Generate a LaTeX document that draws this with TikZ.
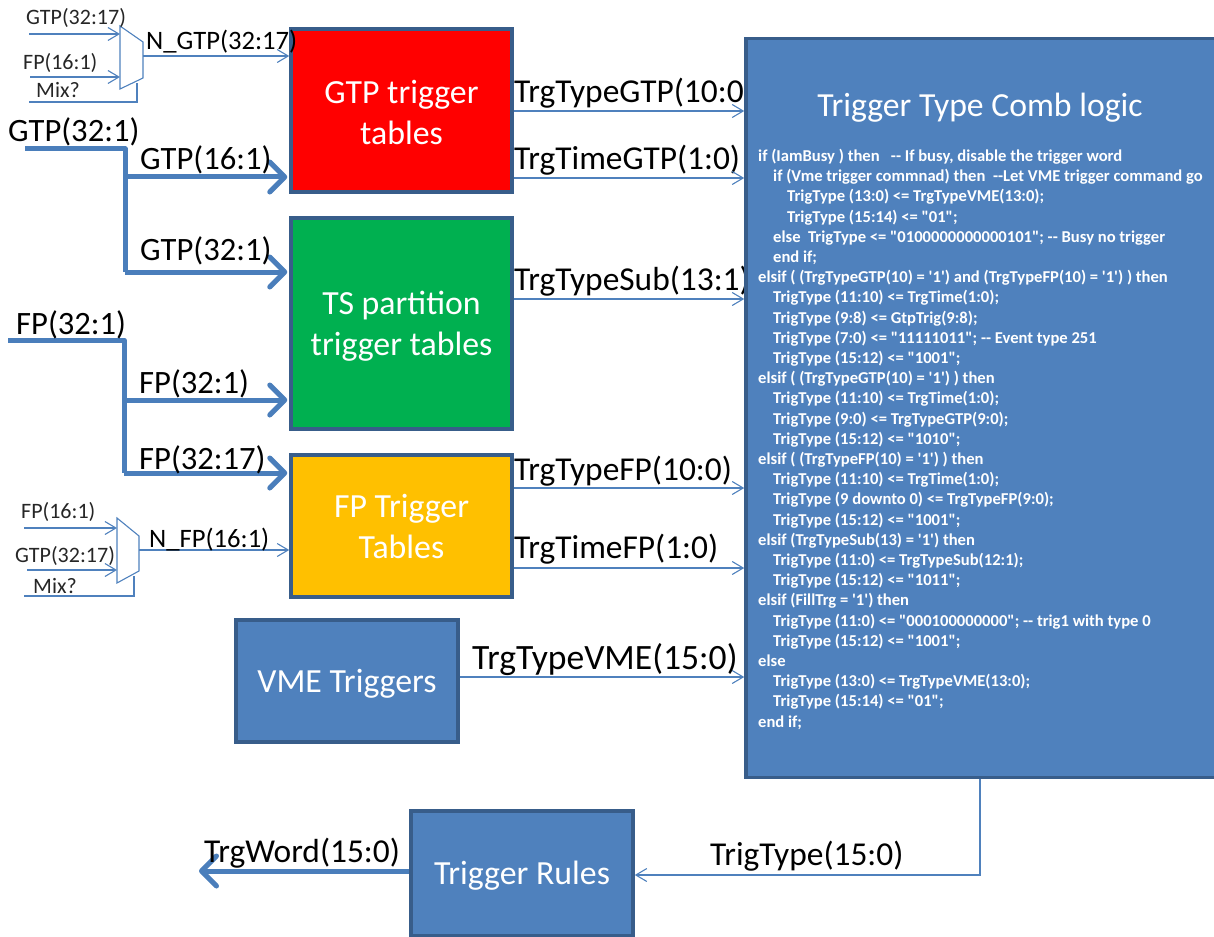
\documentclass[tikz,border=0pt]{standalone}
\usepackage{xcolor}
\usepackage{fontspec}
\setmainfont{Carlito}
\newfontfamily\codefont{Carlito}
\usetikzlibrary{arrows.meta}

\definecolor{wireblue}{RGB}{79,129,189}
\definecolor{busblue}{RGB}{74,126,187}
\definecolor{edgeblue}{RGB}{56,93,138}

\tikzset{
  wire/.style={color=wireblue,line width=1.1pt},
  bus/.style={color=busblue,line width=5pt},
  tablebox/.style={draw=edgeblue,line width=3.5pt,inner sep=0pt},
  boxtxt/.style={text=white,align=center,inner sep=0pt,font=\fontsize{33.8}{41}\selectfont},
  smalltxt/.style={anchor=base west,inner sep=0pt,text=black!85,font=\fontsize{22}{22}\selectfont},
  midtxt/.style={anchor=base west,inner sep=0pt,text=black,font=\fontsize{26.6}{26.6}\selectfont},
  bigtxt/.style={anchor=base west,inner sep=0pt,text=black,font=\fontsize{33.4}{33.4}\selectfont},
  lefttxt/.style={bigtxt,font=\fontsize{32.6}{32.6}\selectfont},
}

\begin{document}
\begin{tikzpicture}[x=1pt,y=1pt,yscale=-1,xscale=1,
  wirearrow/.style={wire,-{Straight Barb[length=11pt,width=13pt,line width=1.1pt]}},
  busarrow/.style={bus,shorten >=2pt,-{Straight Barb[length=15pt,width=30pt,line width=5pt,round]}}]
\useasboundingbox (0,0) rectangle (1214,936);

%Shape: Rectangle
\node [tablebox,fill=red,minimum width=221pt,minimum height=163pt] (gtptab) at (401.5,110.5) {};
\node [tablebox,fill={rgb,255:red,0;green,176;blue,80},minimum width=221pt,minimum height=211pt] (tstab) at (401.5,323.5) {};
\node [tablebox,fill={rgb,255:red,255;green,192;blue,0},minimum width=221pt,minimum height=142pt] (fptab) at (401.5,526) {};
\node [tablebox,fill=wireblue,minimum width=222pt,minimum height=122pt] (vmebox) at (347,681) {};
\node [tablebox,fill=wireblue,minimum width=222pt,minimum height=125pt] (rulesbox) at (522,873.5) {};

% Text Node
\node [boxtxt] (tgtptab) at (401.5,112.5) {GTP trigger\\tables};
\node [boxtxt] (ttstab) at (401.5,326.5) {TS partition\\trigger tables};
\node [boxtxt] (tfptab) at (401.5,526.5) {FP Trigger\\Tables};
\node [boxtxt] (tvmebox) at (347,684) {VME Triggers};
\node [boxtxt] (trulesbox) at (522,875.5) {Trigger Rules};
\node [bigtxt] (ltypegtp) at (514,103) {TrgTypeGTP(10:0)};
\node [bigtxt] (ltimegtp) at (514,169) {TrgTimeGTP(1:0)};
\node [bigtxt] (ltypesub) at (514,290) {TrgTypeSub(13:1)};

%Shape: Rectangle
\node [tablebox,fill=wireblue,minimum width=474pt,minimum height=739pt] (combbox) at (983,408) {};
\node [inner sep=0pt,text=white,font=\fontsize{33.7}{33.7}\selectfont] (combtitle) at (980,108) {Trigger Type Comb logic};
\node [anchor=north west,inner sep=0pt,text=white,align=left,font=\codefont\bfseries\fontsize{16.6}{20.2}\selectfont] (combcode) at (758,149) {%
if (IamBusy ) then~~~-- If busy, disable the trigger word\\
\hspace*{15pt}if (Vme trigger commnad) then~~--Let VME trigger command go\\
\hspace*{29pt}TrigType (13:0) <= TrgTypeVME(13:0);\\
\hspace*{29pt}TrigType (15:14) <= "01";\\
\hspace*{15pt}else~~TrigType <= "0100000000000101"; -- Busy no trigger\\
\hspace*{15pt}end if;\\
elsif ( (TrgTypeGTP(10) = '1') and (TrgTypeFP(10) = '1') ) then\\
\hspace*{15pt}TrigType (11:10) <= TrgTime(1:0);\\
\hspace*{15pt}TrigType (9:8) <= GtpTrig(9:8);\\
\hspace*{15pt}TrigType (7:0) <= "11111011"; -- Event type 251\\
\hspace*{15pt}TrigType (15:12) <= "1001";\\
elsif ( (TrgTypeGTP(10) = '1') ) then\\
\hspace*{15pt}TrigType (11:10) <= TrgTime(1:0);\\
\hspace*{15pt}TrigType (9:0) <= TrgTypeGTP(9:0);\\
\hspace*{15pt}TrigType (15:12) <= "1010";\\
elsif ( (TrgTypeFP(10) = '1') ) then\\
\hspace*{15pt}TrigType (11:10) <= TrgTime(1:0);\\
\hspace*{15pt}TrigType (9 downto 0) <= TrgTypeFP(9:0);\\
\hspace*{15pt}TrigType (15:12) <= "1001";\\
elsif (TrgTypeSub(13) = '1') then\\
\hspace*{15pt}TrigType (11:0) <= TrgTypeSub(12:1);\\
\hspace*{15pt}TrigType (15:12) <= "1011";\\
elsif (FillTrg = '1') then\\
\hspace*{15pt}TrigType (11:0) <= "000100000000"; -- trig1 with type 0\\
\hspace*{15pt}TrigType (15:12) <= "1001";\\
else\\
\hspace*{15pt}TrigType (13:0) <= TrgTypeVME(13:0);\\
\hspace*{15pt}TrigType (15:14) <= "01";\\
end if;};

%Shape: Mux
\coordinate (muxa) at (120,26);
\coordinate (muxb) at (143,42);
\coordinate (muxc) at (143,78);
\coordinate (muxd) at (120,89);
\draw [wire] (muxa) -- (muxb) -- (muxc) -- (muxd) -- cycle;
\coordinate (muxe) at (117,518);
\coordinate (muxf) at (139,536);
\coordinate (muxg) at (139,571);
\coordinate (muxh) at (117,583);
\draw [wire] (muxe) -- (muxf) -- (muxg) -- (muxh) -- cycle;

%Straight Lines
\coordinate (ingtpa) at (29,34);
\coordinate (infpa) at (30,77);
\coordinate (inmixa) at (29,102);
\coordinate (outa) at (143,56);
\draw [wirearrow] (ingtpa) -- (ingtpa -| muxa);
\draw [wirearrow] (infpa) -- (infpa -| muxa);
\draw [wire] (inmixa) -- (137,102) -- (137,83);
\draw [wirearrow] (outa) -- (outa -| gtptab.west);
\coordinate (infpb) at (24,528);
\coordinate (ingtpb) at (27,570);
\coordinate (inmixb) at (24,596);
\coordinate (outb) at (139,550);
\draw [wirearrow] (infpb) -- (infpb -| muxe);
\draw [wirearrow] (ingtpb) -- (ingtpb -| muxe);
\draw [wire] (inmixb) -- (134,596) -- (134,576);
\draw [wirearrow] (outb) -- (outb -| fptab.west);

\coordinate (busgtp) at (25,149);
\coordinate (busgtpa) at (125,177);
\coordinate (busgtpb) at (125,272);
\draw [bus,line join=round] (busgtp) -- (125,149) -- (busgtpb);
\draw [busarrow] (busgtpa) -- (busgtpa -| gtptab.west);
\draw [busarrow] (busgtpb) -- (busgtpb -| tstab.west);
\coordinate (busfp) at (8,340);
\coordinate (busfpa) at (124,400);
\coordinate (busfpb) at (124,473);
\draw [bus,line join=round] (busfp) -- (124,340) -- (busfpb);
\draw [busarrow] (busfpa) -- (busfpa -| tstab.west);
\draw [busarrow] (busfpb) -- (busfpb -| fptab.west);

\coordinate (typegtp) at (gtptab.east |- 0,111);
\coordinate (timegtp) at (gtptab.east |- 0,178);
\coordinate (typesub) at (tstab.east |- 0,299);
\coordinate (typefp) at (fptab.east |- 0,488);
\coordinate (timefp) at (fptab.east |- 0,568);
\coordinate (typevme) at (vmebox.east |- 0,677);
\draw [wirearrow] (typegtp) -- (typegtp -| combbox.west);
\draw [wirearrow] (timegtp) -- (timegtp -| combbox.west);
\draw [wirearrow] (typesub) -- (typesub -| combbox.west);
\draw [wirearrow] (typefp) -- (typefp -| combbox.west);
\draw [wirearrow] (timefp) -- (timefp -| combbox.west);
\draw [wirearrow] (typevme) -- (typevme -| combbox.west);
\draw [wirearrow] (combbox.south -| 980,0) -- (980,875) -- (rulesbox.east |- 0,875);
\coordinate (wordend) at (197,871);
\draw [busarrow] (rulesbox.west |- wordend) -- (wordend);

% Text Node
\node [smalltxt] (lgtpa) at (26,25) {GTP(32:17)};
\node [smalltxt] (lfpa) at (23,70) {FP(16:1)};
\node [smalltxt] (lmixa) at (36,98) {Mix?};
\node [midtxt] (lngtp) at (146,50) {N\_GTP(32:17)};
\node [smalltxt] (lfpb) at (21,518) {FP(16:1)};
\node [smalltxt] (lgtpb) at (15,562) {GTP(32:17)};
\node [smalltxt] (lmixb) at (33,593) {Mix?};
\node [midtxt] (lnfp) at (149,547) {N\_FP(16:1)};
\node [lefttxt] (lbusgtp) at (8,142) {GTP(32:1)};
\node [lefttxt] (lgtplow) at (140,169) {GTP(16:1)};
\node [lefttxt] (lgtpall) at (140,260) {GTP(32:1)};
\node [lefttxt] (lbusfp) at (16,334) {FP(32:1)};
\node [lefttxt] (lfpall) at (139,393) {FP(32:1)};
\node [lefttxt] (lfphigh) at (139,469) {FP(32:17)};
\node [bigtxt] (ltypefp) at (514,480) {TrgTypeFP(10:0)};
\node [bigtxt] (ltimefp) at (514,558) {TrgTimeFP(1:0)};
\node [bigtxt,font=\fontsize{35.6}{35.6}\selectfont] (ltypevme) at (472,669) {TrgTypeVME(15:0)};
\node [bigtxt] (ltrigtype) at (710,865) {TrigType(15:0)};
\node [bigtxt] (ltrgword) at (204,862) {TrgWord(15:0)};

\end{tikzpicture}
\end{document}
